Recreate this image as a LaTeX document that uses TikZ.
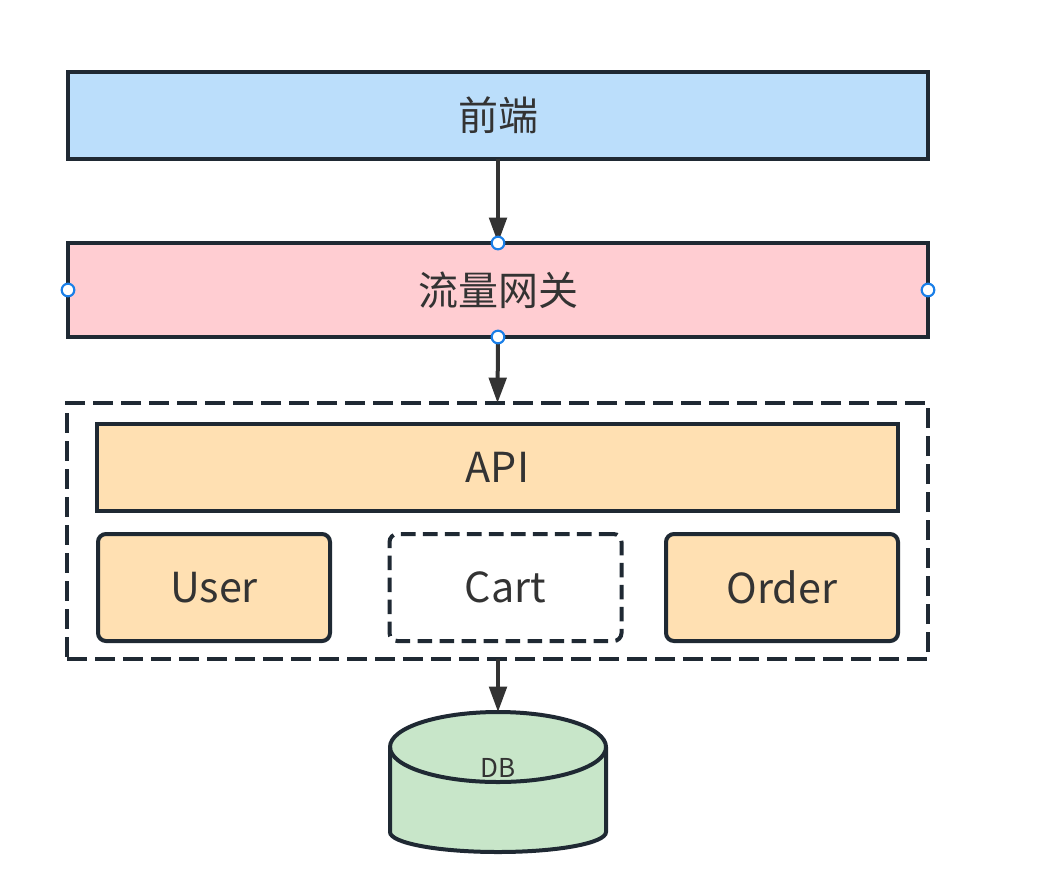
\documentclass[tikz,border=0pt]{standalone}
\usepackage{fontspec}
\setmainfont{Noto Sans CJK SC}
\usetikzlibrary{arrows.meta}
\definecolor{edge}{HTML}{1F2933}
\definecolor{txt}{HTML}{333333}
\definecolor{fblue}{HTML}{BBDEFB}
\definecolor{fpink}{HTML}{FFCDD2}
\definecolor{fpeach}{HTML}{FFE0B2}
\definecolor{fgreen}{HTML}{C8E6C9}
\definecolor{hblue}{HTML}{1A7FE8}
\tikzset{
  box/.style={draw=edge, line width=3pt, text=txt, font=\fontsize{30}{32}\selectfont, inner sep=0pt, outer sep=0pt},
  svc/.style={box, fill=fpeach, rounded corners=6pt, minimum width=174pt, minimum height=80.25pt, font=\fontsize{31}{33}\selectfont},
  link/.style={draw=txt, line width=3pt, -{Triangle[length=19pt,width=13pt]}},
  handle/.style={circle, draw=hblue, fill=white, line width=1.6pt, minimum size=9.5pt, inner sep=0pt},
}
\begin{document}
\begin{tikzpicture}[x=0.75pt, y=-0.75pt]
\useasboundingbox (0,0) rectangle (1037,875);
\node[box, fill=fblue, minimum width=645pt, minimum height=65.25pt] (front) at (498,115.5) {前端};
\node[box, fill=fpink, minimum width=645pt, minimum height=70.5pt] (gw) at (498,290) {流量网关};
\node[draw=edge, line width=3pt, dash pattern=on 15pt off 6pt, minimum width=645.75pt, minimum height=192pt, inner sep=0pt, outer sep=0pt] (outer) at (497.5,531) {};
\node[box, fill=fpeach, minimum width=600.75pt, minimum height=65.25pt, font=\fontsize{31}{33}\selectfont] (api) at (497.5,467.5) {API};
\node[svc] (user) at (214,587.5) {User};
\node[svc, fill=white, dash pattern=on 11pt off 5.5pt] (cart) at (505.5,587.5) {Cart};
\node[svc] (order) at (782,587.5) {Order};
% DB cylinder
\path[fill=fgreen, draw=edge, line width=3pt] (390,747) -- (390,832) arc[start angle=180, end angle=0, x radius=108, y radius=20] -- (606,747) arc[start angle=0, end angle=-180, x radius=108, y radius=35] -- cycle;
\draw[edge, line width=3pt] (390,747) arc[start angle=180, end angle=0, x radius=108, y radius=35];
\coordinate (dbtop) at (498,712);
\node[text=txt, font=\fontsize{19.5}{21}\selectfont, inner sep=0pt] (dbl) at (498,768) {DB};
% connectors
\draw[link] (front.south) -- (gw.north);
\draw[link] (gw.south) -- (outer.north);
\draw[link] (outer.south -| dbtop) -- (dbtop);
% handles
\node[handle] (h1) at (gw.north) {};
\node[handle] (h2) at (gw.south) {};
\node[handle] (h3) at (gw.west) {};
\node[handle] (h4) at (gw.east) {};
\end{tikzpicture}
\end{document}
